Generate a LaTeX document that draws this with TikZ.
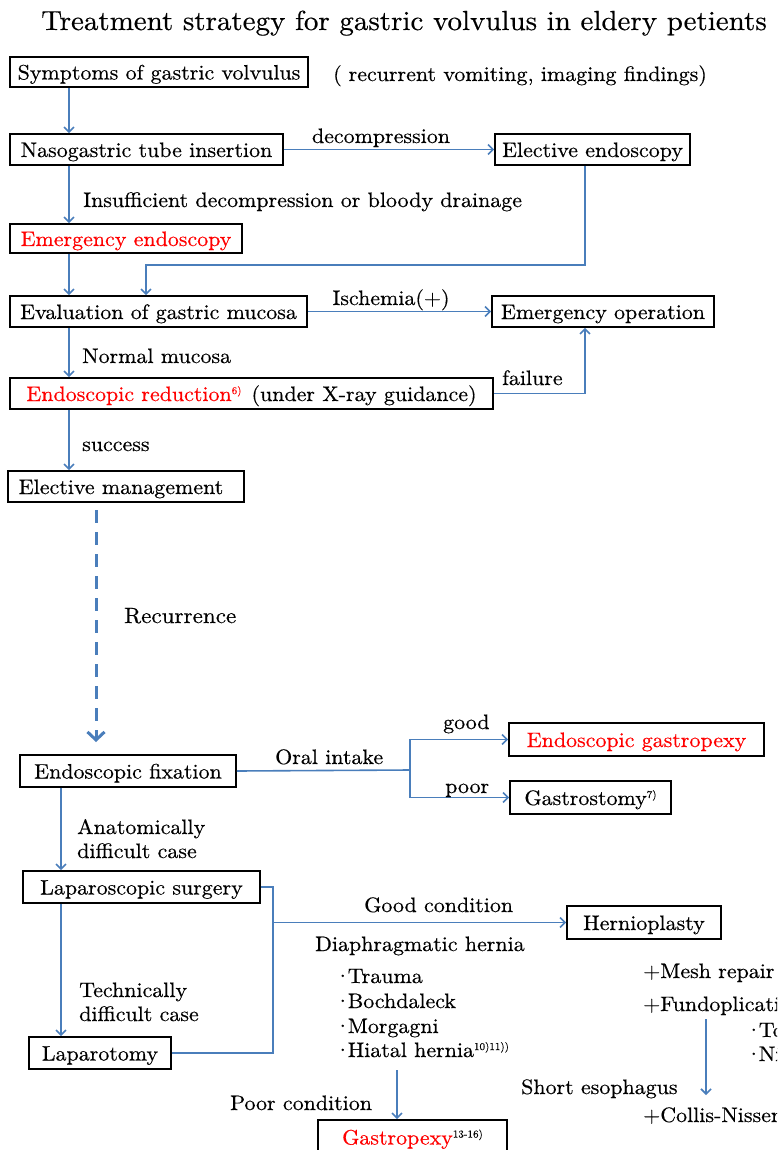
\documentclass[tikz,border=0pt]{standalone}
\usepackage{fontspec}
\setmainfont{lmroman10-regular.otf}[FakeStretch=1.05, FakeBold=0.4]
\usetikzlibrary{arrows.meta}
\definecolor{lnblue}{HTML}{4A7EBB}
\definecolor{txred}{HTML}{FF0000}
\newcommand\refmark[1]{\raisebox{7pt}{\fontsize{10.5}{10.5}\selectfont #1}}
\newcommand\bul{·\kern-3.5pt}
\begin{document}
\begin{tikzpicture}[x=1pt,y=-1pt,
  every node/.style={font=\fontsize{20.9}{23}\selectfont},
  bx/.style={draw=black, line width=1.7pt, fill=white, inner sep=0pt, text height=15pt, text depth=0pt, align=center},
  lbl/.style={anchor=base west, inner sep=0pt},
  arr/.style={draw=lnblue, line width=1.6pt, -{Straight Barb[length=5pt,width=10pt]}},
  ln/.style={draw=lnblue, line width=1.6pt},
  dasharr/.style={draw=lnblue, line width=3pt, dash pattern=on 13pt off 9pt, -{Straight Barb[length=8pt,width=17pt]}},
]
\path[use as bounding box, fill=white] (0,0) rectangle (777,1150);
\clip (0,0) rectangle (777,1150);

% title
\node[inner sep=0pt, font=\fontsize{27.6}{30}\selectfont, anchor=base] (title) at (404,30) {Treatment strategy for gastric volvulus in eldery petients};

% boxes
\node[bx, minimum width=298pt, minimum height=30pt] (sym) at (159,72) {Symptoms of gastric volvulus};
\node[bx, minimum width=273pt, minimum height=31pt] (naso) at (146.5,149.5) {Nasogastric tube insertion};
\node[bx, minimum width=195pt, minimum height=31pt] (elec) at (592.5,149.5) {Elective endoscopy};
\node[bx, minimum width=232pt, minimum height=29pt, text=txred] (emerg) at (126,238.5) {Emergency endoscopy};
\node[bx, minimum width=297pt, minimum height=31pt] (eval) at (158.5,311.5) {Evaluation of gastric mucosa};
\node[bx, minimum width=222pt, minimum height=31pt] (emop) at (603,311.5) {Emergency operation};
\node[bx, minimum width=483pt, minimum height=31pt] (red) at (251.5,393.5) {\textcolor{txred}{Endoscopic reduction\refmark{6)}}\hspace{10pt}(under X-ray guidance)};
\node[bx, minimum width=236pt, minimum height=31pt] (elman) at (126,486.5) {Elective management\hspace{10pt}};
\node[bx, minimum width=216pt, minimum height=32pt] (fix) at (128,771) {Endoscopic fixation};
\node[bx, minimum width=255pt, minimum height=33pt, text=txred] (egast) at (636.5,739.5) {Endoscopic gastropexy};
\node[bx, minimum width=161pt, minimum height=33pt] (gstom) at (590.5,797.5) {Gastrostomy\refmark{7)}};
\node[bx, minimum width=237pt, minimum height=32pt] (lapsc) at (141.5,887) {Laparoscopic surgery};
\node[bx, minimum width=142pt, minimum height=32pt] (lapto) at (100,1053) {Laparotomy};
\node[bx, minimum width=154pt, minimum height=33pt] (hern) at (644,922.5) {Hernioplasty};
\node[bx, minimum width=189pt, minimum height=34pt] (gpex) at (412.5,1137) {\textcolor{txred}{Gastropexy}\refmark{13-16)}};

% helper coordinates
\coordinate (xa) at (69,0);
\coordinate (xb) at (61,0);
\coordinate (c1) at (585,265);
\coordinate (c2) at (146,265);
\coordinate (d1) at (96,510);
\coordinate (d2) at (96,742);
\coordinate (br) at (410,770);
\coordinate (v1) at (273,0);
\coordinate (h1) at (397,1070);
\coordinate (f1) at (706,1019);
\coordinate (f2) at (706,1095);

% connectors
\draw[arr] (sym.south -| xa) -- (naso.north -| xa);
\draw[arr] (naso.east) -- (elec.west);
\draw[arr] (naso.south -| xa) -- (emerg.north -| xa);
\draw[arr] (elec.south -| c1) -- (c1) -- (c2) -- (c2 |- eval.north);
\draw[arr] (emerg.south -| xa) -- (eval.north -| xa);
\draw[arr] (eval.east) -- (emop.west);
\draw[arr] (eval.south -| xa) -- (red.north -| xa);
\draw[arr] (red.east) -| (emop.south -| c1);
\draw[arr] (red.south -| xa) -- (elman.north -| xa);
\draw[dasharr] (d1) -- (d2);
\draw[ln] (fix.east) -- (br);
\draw[arr] (br) |- (egast.west);
\draw[arr] (br) |- (gstom.west);
\draw[arr] (fix.south -| xb) -- (lapsc.north -| xb);
\draw[arr] (lapsc.south -| xb) -- (lapto.north -| xb);
\draw[ln] (lapsc.east) -| (v1 |- lapto.east) -- (lapto.east);
\draw[arr] (v1 |- hern.west) -- (hern.west);
\draw[arr] (h1) -- (h1 |- gpex.north);
\draw[arr] (f1) -- (f2);

% labels
\node[lbl] (l1) at (333,81) {(\,\,recurrent vomiting, imaging findings)};
\node[lbl, anchor=base] (l2) at (381,143) {decompression};
\node[lbl] (l3) at (83,207) {Insufficient decompression or bloody drainage};
\node[lbl, anchor=base] (l4) at (391,305) {Ischemia(+)};
\node[lbl] (l5) at (82,363) {Normal mucosa};
\node[lbl] (l6) at (502,385) {failure};
\node[lbl] (l7) at (82,451) {success};
\node[lbl, font=\fontsize{22}{24}\selectfont] (l8) at (124,623) {Recurrence};
\node[lbl] (l9) at (275,764) {Oral intake};
\node[lbl] (l10) at (443,729) {good};
\node[lbl] (l11) at (445,793) {poor};
\node[lbl] (l12) at (77,834) {Anatomically};
\node[lbl] (l13) at (77,858) {difficult case};
\node[lbl] (l14) at (79,997) {Technically};
\node[lbl] (l15) at (79,1021) {difficult case};
\node[lbl] (l16) at (364,912) {Good condition};
\node[lbl] (l17) at (315,951) {Diaphragmatic hernia};
\node[lbl] (l18) at (334,983) {\bul Trauma};
\node[lbl] (l19) at (334,1008) {\bul Bochdaleck};
\node[lbl] (l20) at (334,1033) {\bul Morgagni};
\node[lbl] (l21) at (334,1057) {\bul Hiatal hernia\refmark{10)11))}};
\node[lbl] (l22) at (230,1110) {Poor condition};
\node[lbl] (l23) at (643,978) {+Mesh repair};
\node[lbl] (l24) at (643,1011) {+Fundoplication};
\node[lbl] (l25) at (745,1037) {\bul Toupet};
\node[lbl] (l26) at (745,1061) {\bul Nissen};
\node[lbl] (l27) at (521,1094) {Short esophagus};
\node[lbl] (l28) at (643,1122) {+Collis-Nissen};
\end{tikzpicture}
\end{document}
